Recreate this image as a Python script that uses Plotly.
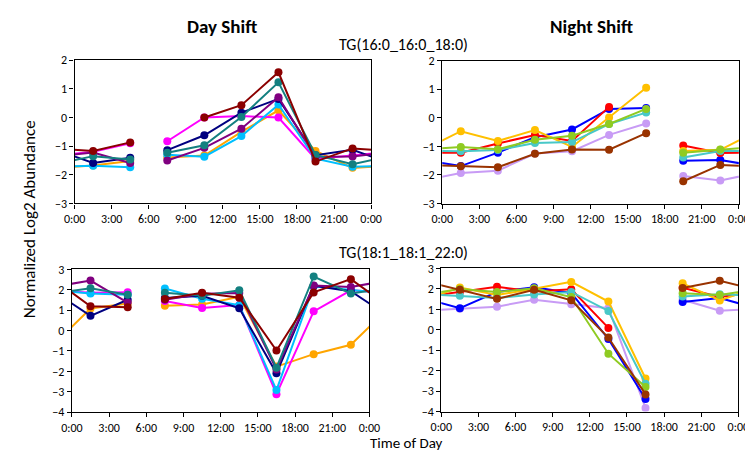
import plotly.graph_objects as go

W, H = 753, 451

# sampling times (hours) shared by all panels
times = [1.5, 4.5, 7.5, 10.5, 13.5, 16.5, 19.5, 22.5]
tick_vals = [0, 3, 6, 9, 12, 15, 18, 21, 24]
tick_text = ["0:00", "3:00", "6:00", "9:00", "12:00", "15:00", "18:00", "21:00", "0:00"]

day_colors = ["#FFA500", "#FF00FF", "#00BFFF", "#000080", "#800080", "#138080", "#8B0000"]
night_colors = ["#C89BF5", "#0000FF", "#FF0000", "#FFC000", "#48C8C8", "#8FCB22", "#993300"]

# TG(16:0_16:0_18:0)
tg16_day = [
    [-1.68, -1.52, -1.40, -1.33, -0.50, 0.25, -1.17, -1.76],   # orange
    [-1.20, -0.90, -0.83, 0.00, 0.05, 0.00, -1.45, -1.33],     # magenta
    [-1.69, -1.74, -1.30, -1.37, -0.65, 0.45, -1.44, -1.72],   # cyan
    [-1.59, -1.41, -1.14, -0.62, 0.17, 0.65, -1.32, -1.13],    # navy
    [-1.22, -1.59, -1.50, -1.06, -0.39, 0.71, -1.37, -1.36],   # purple
    [-1.35, -1.47, -1.23, -0.97, 0.02, 1.23, -1.31, -1.63],    # teal
    [-1.17, -0.87, None, 0.00, 0.43, 1.58, -1.54, -1.08],      # dark red
]
tg16_night = [
    [-1.93, -1.85, -1.25, -1.17, -0.60, -0.20, -2.04, -2.19],  # lavender
    [-1.69, -1.22, -0.68, -0.41, 0.31, 0.34, -1.50, -1.48],    # blue
    [-1.22, -0.90, -0.60, -0.81, 0.38, None, -0.97, -1.23],    # red
    [-0.47, -0.81, -0.43, -1.02, 0.01, 1.05, -1.16, -1.12],    # gold
    [-1.17, -1.13, -0.88, -0.85, -0.22, 0.18, -1.39, -1.16],   # turquoise
    [-1.02, -1.10, -0.77, -0.63, -0.22, 0.31, -1.22, -1.11],   # yellow-green
    [-1.70, -1.73, -1.26, -1.11, -1.12, -0.54, -2.22, -1.65],  # brown
]

# TG(18:1_18:1_22:0)
tg18_day = [
    [1.08, 1.32, 1.22, 1.28, 1.65, -1.77, -1.16, -0.70],       # orange
    [1.85, 1.88, 1.45, 1.11, 1.25, -3.12, 0.94, 1.97],         # magenta
    [1.81, 1.75, 2.06, 1.56, 1.24, -2.92, 2.17, 1.99],         # cyan
    [0.72, 1.51, 1.59, 1.70, 1.09, -2.10, 2.20, 1.93],         # navy
    [2.45, 1.37, 1.51, 1.80, 1.84, -1.91, 2.21, 2.14],         # purple
    [2.07, 1.75, 1.85, 1.71, 1.97, -1.82, 2.65, 1.82],         # teal
    [1.19, 1.14, 1.55, 1.85, 1.61, -0.98, 1.87, 2.52],         # dark red
]
tg18_night = [
    [1.03, 1.13, 1.47, 1.25, 1.05, -3.82, 1.47, 0.93],         # lavender
    [1.05, 1.85, 2.08, 1.80, -0.45, -3.38, 1.36, 1.55],        # blue
    [1.84, 2.10, 1.87, 1.98, 0.09, None, 2.05, 1.60],          # red
    [2.07, 1.70, 2.00, 2.34, 1.38, -2.38, 2.27, 1.43],         # gold
    [1.66, 1.55, 1.72, 1.85, 0.92, -2.64, 1.63, 1.74],         # turquoise
    [1.99, 1.84, 2.03, 1.60, -1.17, -2.80, 1.79, 1.70],        # yellow-green
    [1.95, 1.51, 1.95, 1.44, -0.38, -3.16, 2.04, 2.39],        # brown
]

# plot areas in pixels: (left, right, top, bottom)
panels = [
    (tg16_day, day_colors, 6.0, (57.3, 362.7, 46.7, 194.4), [-3, 2]),
    (tg16_night, night_colors, 18.0, (436.0, 741.5, 47.0, 194.6), [-3, 2]),
    (tg18_day, day_colors, 6.0, (54.5, 361.0, 262.5, 409.8), [-4, 3]),
    (tg18_night, night_colors, 18.0, (435.0, 741.0, 261.5, 409.3), [-4, 3]),
]


def wrap_series(vals, gap):
    """Close the 24 h cycle at both edges and break the line at the unsampled gap."""
    xs = [times[-1] - 24] + times + [times[0] + 24]
    ys = [vals[-1]] + vals + [vals[0]]
    idx = next(i for i, x in enumerate(xs) if x > gap)
    xs.insert(idx, gap)
    ys.insert(idx, None)
    return xs, ys


font_main = "Carlito, Calibri, Lato, sans-serif"

fig = go.Figure()
axis_common = dict(
    showline=True, mirror=True, linecolor="black", linewidth=1.3,
    ticks="outside", ticklen=4, tickcolor="black", tickwidth=1.2,
    showgrid=False, zeroline=False,
    tickfont=dict(family=font_main, size=12, color="black"),
)

layout_axes = {}
for k, (data, colors, gap, (l, r, t, b), yr) in enumerate(panels):
    n = "" if k == 0 else str(k + 1)
    for vals, col in zip(data, colors):
        xs, ys = wrap_series(vals, gap)
        fig.add_trace(go.Scatter(
            x=xs, y=ys, mode="lines+markers",
            line=dict(color=col, width=2),
            marker=dict(color=col, size=8),
            xaxis="x" + n, yaxis="y" + n, showlegend=False,
        ))
    layout_axes["xaxis" + n] = dict(
        axis_common, domain=[l / W, r / W], range=[0, 24],
        tickvals=tick_vals, ticktext=tick_text, anchor="y" + n,
    )
    layout_axes["yaxis" + n] = dict(
        axis_common, domain=[1 - b / H, 1 - t / H], range=yr,
        dtick=1, anchor="x" + n,
    )


def label(text, x, y, size, angle=0):
    return dict(text=text, x=x / W, y=1 - y / H, xref="paper", yref="paper",
                showarrow=False, textangle=angle, xanchor="center", yanchor="middle",
                font=dict(family=font_main, size=size, color="black"))


annotations = [
    label("<b>Day Shift</b>", 209, 12, 19),
    label("<b>Night Shift</b>", 590, 12, 19),
    label("TG(16:0_16:0_18:0)", 396, 30, 16),
    label("TG(18:1_18:1_22:0)", 396, 245, 16),
    label("Normalized Log2 Abundance", 11, 211, 17, -90),
    label("Time of Day", 399, 442, 15),
]

fig.update_layout(
    width=W, height=H,
    margin=dict(l=0, r=0, t=0, b=0),
    paper_bgcolor="white", plot_bgcolor="white",
    annotations=annotations,
    **layout_axes,
)
fig.write_html("out.html")
